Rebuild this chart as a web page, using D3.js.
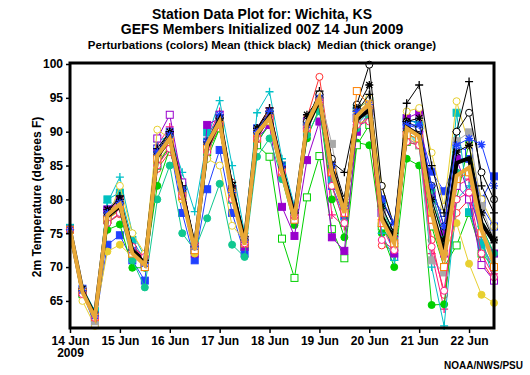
<!DOCTYPE html>
<html>
<head>
<meta charset="utf-8">
<script src="https://cdn.jsdelivr.net/npm/d3@7"></script>
<style>
  body { margin: 0; background: #fff; }
  text { font-family: "Liberation Sans", Arial, sans-serif; }
</style>
</head>
<body>
<svg id="chart" width="530" height="375"></svg>
<script>
// forecast times: every 6 h from 00Z 14 Jun 2009
const startTime = new Date(Date.UTC(2009, 5, 14, 0));
const endTime = new Date(Date.UTC(2009, 5, 22, 12));
const times = d3.utcHour.every(6).range(startTime, d3.utcHour.offset(endTime, 1));

const yTicks = [65, 70, 75, 80, 85, 90, 95, 100];

const meanValues = [75.5,66.5,62.8,77.5,79.0,72.5,70.5,86.3,89.1,81.0,72.8,87.8,91.8,81.2,73.8,89.6,92.3,84.4,77.5,90.8,94.7,84.4,78.5,91.8,93.2,77.5,74.0,90.6,89.5,78.4,72.0,85.4,86.1,76.5,73.7];
const medianValues = [75.5,66.3,62.5,77.7,79.3,72.0,70.3,86.5,89.0,80.5,72.5,88.2,91.5,80.5,73.3,89.8,92.0,84.0,77.0,91.2,95.0,84.0,78.0,92.3,94.2,77.0,73.5,90.5,89.3,78.0,71.0,83.5,84.7,75.5,70.5];

// perturbation members
const p01 = [75.6,66.0,62.4,76.5,77.8,73.0,71.5,84.5,87.0,82.0,73.5,87.0,91.5,82.5,74.5,89.0,93.0,85.0,78.5,92.0,98.1,85.5,79.0,91.0,92.0,73.2,72.5,89.0,88.0,74.0,65.9,78.0,80.0,71.0,68.0];
const p02 = [75.4,66.8,63.2,78.0,80.0,73.5,71.0,88.0,90.7,82.5,73.0,89.0,93.0,82.0,74.0,90.5,93.5,85.5,78.0,91.0,95.5,77.7,76.0,91.5,93.5,76.0,72.3,90.0,90.0,72.0,63.8,82.0,83.0,74.0,69.0];
const p03 = [75.5,66.2,61.5,73.3,74.7,71.0,68.0,85.0,88.0,78.0,71.0,81.5,87.3,78.0,72.0,88.2,91.5,83.5,77.0,91.0,94.0,82.0,77.5,92.0,93.5,80.0,76.0,91.0,90.5,84.1,81.2,86.0,86.0,80.0,83.4];
const p04 = [75.5,66.8,63.0,78.5,80.5,72.0,70.0,87.5,90.0,81.5,72.5,88.5,92.0,80.5,73.5,90.5,92.5,84.0,77.0,90.0,94.5,83.0,78.0,93.0,92.5,78.0,71.5,91.5,91.5,80.0,78.0,88.0,87.0,79.0,76.0];
const p05 = [75.5,66.5,63.0,75.5,76.3,69.9,69.9,82.0,87.5,80.0,72.0,86.0,90.5,80.0,73.0,88.5,91.0,83.0,76.2,89.0,93.5,80.0,74.4,88.4,88.0,75.0,70.0,86.0,85.0,64.4,64.5,80.0,88.4,76.0,72.0];
const p06 = [75.5,66.0,62.5,77.0,78.5,72.0,70.5,85.0,88.0,80.5,72.5,87.0,90.5,80.0,73.0,88.0,86.3,74.2,68.4,80.3,86.4,75.6,71.3,88.0,91.0,76.0,73.0,88.5,88.0,76.0,70.0,73.2,78.0,72.0,70.0];
const p07 = [75.6,67.0,63.5,79.5,83.3,75.0,71.5,88.5,89.5,84.0,78.2,89.0,94.6,85.0,75.0,92.8,95.9,86.0,79.0,92.0,95.5,84.0,77.0,91.0,93.0,75.0,71.0,90.0,88.0,70.0,61.3,80.0,82.0,74.0,68.0];
const p08 = [75.8,66.5,63.5,80.0,81.0,74.0,71.0,87.0,89.5,82.0,73.5,89.9,91.5,80.0,73.0,90.0,92.5,85.0,78.0,91.5,95.0,83.0,78.5,93.5,94.5,79.0,75.0,92.0,91.0,80.0,74.0,92.8,78.1,73.3,70.0];
const p09 = [75.5,66.5,62.8,78.5,80.0,72.5,70.5,87.0,89.5,81.0,72.0,91.0,92.0,80.5,73.0,89.0,91.0,78.9,74.6,85.8,91.5,74.4,72.4,90.0,93.0,78.0,72.0,92.0,92.8,80.7,75.2,86.0,80.7,75.0,72.0];
const p10 = [75.5,66.3,62.5,77.5,79.5,72.5,70.5,89.0,92.5,82.5,73.0,88.0,92.5,81.5,74.0,90.0,92.5,84.5,77.5,91.5,95.0,84.0,78.5,92.0,93.5,78.0,74.0,90.0,89.5,77.0,72.0,82.0,80.0,70.3,68.0];
const p11 = [75.5,66.0,62.5,72.3,73.3,71.5,71.5,85.5,88.0,80.0,72.0,87.0,91.0,80.5,73.5,89.0,92.0,84.0,77.5,90.5,94.0,84.0,78.0,91.0,92.0,77.0,73.0,89.5,88.0,78.0,72.0,76.5,70.5,65.9,64.7];
const p12 = [75.5,65.0,61.3,77.0,82.0,75.0,72.0,90.3,89.0,80.0,72.5,86.0,85.0,76.1,74.0,89.5,91.5,83.0,77.0,90.0,94.5,85.0,79.0,93.0,95.0,82.0,76.0,93.0,93.5,86.9,78.9,94.5,88.0,80.0,76.0];
const p13 = [75.5,66.5,63.0,76.5,78.0,71.0,67.0,80.0,85.0,75.0,72.5,77.2,82.3,73.3,71.5,86.3,89.0,83.0,77.0,89.5,93.0,82.0,76.5,90.5,92.0,79.0,74.0,90.0,88.5,81.4,74.0,84.0,84.0,76.0,72.0];
const p14 = [75.5,66.5,62.0,77.5,79.0,72.5,70.5,86.5,89.0,81.0,73.0,88.0,92.0,81.0,74.0,90.0,92.5,84.0,77.5,91.0,95.5,88.2,78.0,92.0,93.0,78.0,73.0,89.0,88.0,71.0,69.2,88.6,89.9,79.0,74.0];
const p15 = [75.5,66.5,63.0,78.0,80.5,73.0,71.0,87.5,90.0,82.0,73.5,88.5,92.5,82.5,74.5,90.5,93.5,85.0,78.5,91.5,96.0,85.5,84.0,93.0,95.5,80.0,76.0,94.2,96.9,85.0,78.0,90.0,97.4,82.0,78.0];
const p16 = [75.5,66.5,62.8,77.5,79.5,72.5,70.5,86.5,89.5,81.5,73.0,88.0,92.0,81.5,74.0,90.0,92.5,84.5,78.0,91.5,95.5,86.0,80.0,94.0,99.9,82.0,76.0,91.5,90.5,82.0,76.0,90.0,92.8,84.0,80.0];
const p17 = [75.5,66.8,63.0,78.5,80.0,72.5,71.0,87.0,90.0,81.5,73.0,88.5,92.0,82.0,74.0,90.5,93.0,85.0,78.0,92.5,95.0,85.0,79.5,93.5,96.9,79.0,75.0,91.5,92.0,80.0,74.0,87.0,88.0,78.0,74.0];
const p18 = [75.5,66.3,62.6,77.0,78.5,72.0,70.0,86.0,88.5,80.5,72.5,87.5,91.0,81.0,73.5,89.0,92.0,84.0,77.0,90.5,94.5,84.0,78.0,96.0,94.0,76.5,73.5,89.5,89.0,77.0,70.0,83.0,84.0,75.0,70.0];
const p19 = [75.5,66.0,62.5,76.5,78.0,73.0,71.5,85.0,87.5,80.5,73.5,87.0,91.0,80.0,73.5,89.0,92.0,84.0,77.5,90.5,94.5,82.0,76.5,91.0,91.5,74.0,72.5,88.5,88.0,73.0,66.5,80.0,81.0,72.0,68.5];
const p20 = [75.5,66.5,62.8,78.0,79.5,72.5,70.5,87.0,89.5,81.5,73.0,88.5,92.5,81.0,74.0,90.0,93.0,85.0,78.5,91.0,95.0,85.0,79.0,93.0,94.0,80.0,76.5,91.0,91.0,82.0,76.0,88.0,89.0,88.1,82.0];

const members = [
  { values: p01, color: '#ff3030', marker: 'circle', filled: false },
  { values: p02, color: '#ff1a80', marker: 'plus', filled: false },
  { values: p03, color: '#2040ff', marker: 'square', filled: true },
  { values: p04, color: '#2040ff', marker: 'square', filled: false },
  { values: p05, color: '#00d000', marker: 'circle', filled: true },
  { values: p06, color: '#00d000', marker: 'square', filled: false },
  { values: p07, color: '#00c0c8', marker: 'plus', filled: false },
  { values: p08, color: '#00c0c0', marker: 'square', filled: true },
  { values: p09, color: '#9900cc', marker: 'square', filled: true },
  { values: p10, color: '#9900cc', marker: 'square', filled: false },
  { values: p11, color: '#e8d030', marker: 'circle', filled: true },
  { values: p12, color: '#e8d030', marker: 'circle', filled: false },
  { values: p13, color: '#10c890', marker: 'circle', filled: true },
  { values: p14, color: '#a8a8a8', marker: 'square', filled: true },
  { values: p15, color: '#000000', marker: 'plus', filled: false },
  { values: p16, color: '#000000', marker: 'circle', filled: false },
  { values: p17, color: '#000000', marker: 'star', filled: false },
  { values: p18, color: '#ff8000', marker: 'square', filled: false },
  { values: p19, color: '#ff1a80', marker: 'circle', filled: false },
  { values: p20, color: '#2040ff', marker: 'star', filled: false }
];

const svg = d3.select('#chart');
const width = 530;
const height = 375;
const margin = { top: 64, right: 36, bottom: 47, left: 70 };

const x = d3.scaleUtc()
  .domain([startTime, endTime])
  .range([margin.left, width - margin.right]);

const y = d3.scaleLinear()
  .domain([61, 100])
  .range([height - margin.bottom, margin.top]);

const line = d3.line()
  .x((d, i) => x(times[i]))
  .y(d => y(d));

const plot = svg.append('g');

// member lines + markers
members.forEach(m => {
  plot.append('path')
    .datum(m.values)
    .attr('d', line)
    .attr('fill', 'none')
    .attr('stroke', m.color)
    .attr('stroke-width', 1);

  const g = plot.append('g');
  m.values.forEach((v, i) => {
    const cx = x(times[i]), cy = y(v);
    if (m.marker === 'circle') {
      g.append('circle')
        .attr('cx', cx).attr('cy', cy).attr('r', 3.5)
        .attr('fill', m.filled ? m.color : '#fff')
        .attr('stroke', m.color).attr('stroke-width', 1);
    } else if (m.marker === 'square') {
      g.append('rect')
        .attr('x', cx - 3.5).attr('y', cy - 3.5)
        .attr('width', 7).attr('height', 7)
        .attr('fill', m.filled ? m.color : '#fff')
        .attr('stroke', m.color).attr('stroke-width', 1);
    } else if (m.marker === 'plus') {
      g.append('path')
        .attr('d', `M${cx - 4},${cy}H${cx + 4}M${cx},${cy - 4}V${cy + 4}`)
        .attr('stroke', m.color).attr('stroke-width', 1.3);
    } else {
      g.append('path')
        .attr('d', `M${cx - 4},${cy}H${cx + 4}M${cx},${cy - 4}V${cy + 4}M${cx - 3},${cy - 3}L${cx + 3},${cy + 3}M${cx - 3},${cy + 3}L${cx + 3},${cy - 3}`)
        .attr('stroke', m.color).attr('stroke-width', 1.3);
    }
  });
});

// mean (thick black) and median (thick orange)
plot.append('path')
  .datum(meanValues)
  .attr('d', line)
  .attr('fill', 'none')
  .attr('stroke', '#000')
  .attr('stroke-width', 4);

plot.append('path')
  .datum(medianValues)
  .attr('d', line)
  .attr('fill', 'none')
  .attr('stroke', '#e8a838')
  .attr('stroke-width', 4);

// axes
const xAxis = svg.append('g')
  .attr('transform', `translate(0,${height - margin.bottom})`)
  .call(d3.axisBottom(x)
    .ticks(d3.utcDay.every(1))
    .tickFormat(d3.utcFormat('%-d Jun'))
    .tickSize(5).tickSizeOuter(0).tickPadding(3));
xAxis.select('.domain').remove();
xAxis.selectAll('line').attr('stroke-width', 1.5);
xAxis.selectAll('text')
  .attr('font-size', 12).attr('font-weight', 'bold').attr('fill', '#000');
xAxis.selectAll('.tick').filter((d, i) => i === 0)
  .select('text')
  .append('tspan')
  .attr('x', 0).attr('dy', '1.05em')
  .text('2009');

const yAxis = svg.append('g')
  .attr('transform', `translate(${margin.left},0)`)
  .call(d3.axisLeft(y).tickValues(yTicks).tickSize(4).tickPadding(3));
yAxis.select('.domain').remove();
yAxis.selectAll('line').attr('stroke-width', 1.5);
yAxis.selectAll('text')
  .attr('font-size', 12).attr('font-weight', 'bold').attr('fill', '#000');

// frame
svg.append('rect')
  .attr('x', margin.left)
  .attr('y', margin.top - 1)
  .attr('width', width - margin.left - margin.right)
  .attr('height', height - margin.bottom - margin.top + 1)
  .attr('fill', 'none')
  .attr('stroke', '#000')
  .attr('stroke-width', 3);

// titles
const titles = [
  { text: 'Station Data Plot for: Wichita, KS', y: 19, size: 14 },
  { text: 'GEFS Members Initialized 00Z 14 Jun 2009', y: 34, size: 14 },
  { text: 'Perturbations (colors) Mean (thick black)  Median (thick orange)', y: 49, size: 11.5 }
];
svg.selectAll('.title')
  .data(titles)
  .enter().append('text')
  .attr('class', 'title')
  .attr('x', 262)
  .attr('y', d => d.y)
  .attr('text-anchor', 'middle')
  .attr('font-size', d => d.size)
  .attr('font-weight', 'bold')
  .style('white-space', 'pre')
  .text(d => d.text);

svg.append('text')
  .attr('transform', 'rotate(-90)')
  .attr('x', -197)
  .attr('y', 41)
  .attr('text-anchor', 'middle')
  .attr('font-size', 12)
  .attr('font-weight', 'bold')
  .text('2m Temperature (degrees F)');

svg.append('text')
  .attr('x', 523)
  .attr('y', 369)
  .attr('text-anchor', 'end')
  .attr('font-size', 10)
  .attr('font-weight', 'bold')
  .text('NOAA/NWS/PSU');
</script>
</body>
</html>
